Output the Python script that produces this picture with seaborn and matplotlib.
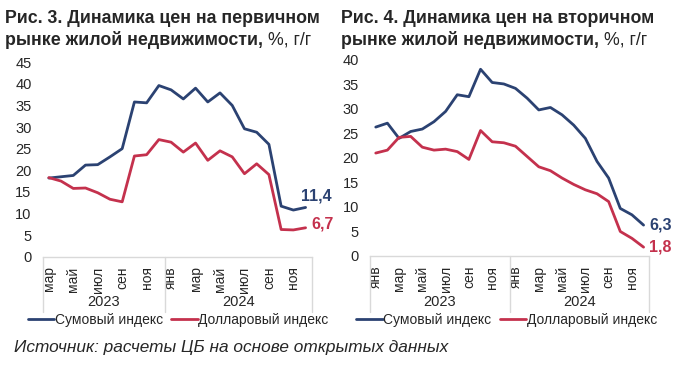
import numpy as np
import pandas as pd
import seaborn as sns
import matplotlib.pyplot as plt
from matplotlib.lines import Line2D
from matplotlib import transforms

# данные: первичный рынок (мар 2023 - дек 2024)
months = ['янв', 'фев', 'мар', 'апр', 'май', 'июн', 'июл', 'авг', 'сен', 'окт', 'ноя', 'дек']
primary_months = months[2:] + months
primary_som = [18.2, 18.5, 18.8, 21.2, 21.3, 23.1, 25.0, 35.8, 35.6, 39.6, 38.6,
               36.5, 39.0, 35.8, 37.9, 35.0, 29.6, 28.8, 26.0, 11.7, 10.8, 11.4]
primary_usd = [18.3, 17.5, 15.8, 15.9, 14.8, 13.3, 12.7, 23.3, 23.6, 27.1, 26.5,
               24.2, 26.3, 22.3, 24.5, 23.1, 19.2, 21.5, 19.0, 6.3, 6.2, 6.7]

# вторичный рынок (янв 2023 - дек 2024)
secondary_months = months + months
secondary_som = [26.3, 27.1, 24.0, 25.4, 25.9, 27.4, 29.5, 32.9, 32.5, 38.1, 35.4, 35.1,
                 34.2, 32.2, 29.8, 30.3, 28.8, 26.7, 24.0, 19.3, 15.9, 9.7, 8.4, 6.3]
secondary_usd = [21.0, 21.6, 24.2, 24.4, 22.2, 21.6, 21.8, 21.3, 19.7, 25.6, 23.3, 23.1,
                 22.4, 20.3, 18.2, 17.4, 15.9, 14.6, 13.5, 12.7, 11.1, 5.0, 3.6, 1.8]

years = ['2023', '2024']
series_names = ['Сумовый индекс', 'Долларовый индекс']
blue = '#2B4272'
red = '#C4314D'
grey = '#D9D9D9'

sns.set_theme(style='white')
plt.rcParams['font.family'] = ['Liberation Sans', 'DejaVu Sans']

fig = plt.figure(figsize=(6.8, 3.77), dpi=100)
ax1 = fig.add_axes([0.0628, 0.319, 0.3956, 0.516])
ax2 = fig.add_axes([0.544, 0.321, 0.411, 0.52])


def draw_panel(ax, month_labels, som, usd, n_first_year, ymax, end_offsets):
    n = len(month_labels)
    df = pd.DataFrame({
        'idx': list(range(n)) * 2,
        'value': som + usd,
        'series': [series_names[0]] * n + [series_names[1]] * n,
    })
    sns.lineplot(data=df, x='idx', y='value', hue='series',
                 palette=[blue, red], linewidth=2, legend=False, ax=ax)
    ax.set_xlim(-0.5, n - 0.5)
    ax.set_ylim(0, ymax)
    ax.set_yticks(range(0, ymax + 1, 5))
    ax.set_xticks(range(0, n, 2))
    ax.set_xticklabels(month_labels[::2], rotation=90, va='top')
    ax.tick_params(axis='x', length=0, pad=7, labelsize=10)
    ax.tick_params(axis='y', length=0, pad=8, labelsize=10.5)
    ax.set_xlabel('')
    ax.set_ylabel('')
    for s in ['top', 'right', 'left']:
        ax.spines[s].set_visible(False)
    ax.spines['bottom'].set_color(grey)
    ax.spines['bottom'].set_linewidth(1)

    # разделители годов и подписи годов
    tr = transforms.blended_transform_factory(ax.transData, ax.transAxes)
    for xv in [-0.5, n_first_year - 0.5, n - 0.5]:
        ax.plot([xv, xv], [0, -0.285], color=grey, lw=1, transform=tr, clip_on=False)
    ax.text((n_first_year - 1) / 2, -0.235, years[0], transform=tr,
            ha='center', va='center', fontsize=10.5)
    ax.text((n_first_year + n - 1) / 2, -0.235, years[1], transform=tr,
            ha='center', va='center', fontsize=10.5)

    # подписи последних значений
    for vals, col, off in zip([som, usd], [blue, red], end_offsets):
        ax.annotate(f'{vals[-1]:.1f}'.replace('.', ','), xy=(n - 1, vals[-1]),
                    xytext=off, textcoords='offset points', color=col,
                    fontsize=11.5, fontweight='bold', ha='left', va='center')


draw_panel(ax1, primary_months, primary_som, primary_usd, 10, 45, [(-3, 8), (4, 3)])
draw_panel(ax2, secondary_months, secondary_som, secondary_usd, 12, 40, [(4, 0), (4, 0)])

# легенды
handles = [Line2D([0], [0], color=blue, lw=2), Line2D([0], [0], color=red, lw=2)]
for xc in [0.262, 0.745]:
    fig.legend(handles, series_names, loc='center', bbox_to_anchor=(xc, 0.152),
               ncol=2, frameon=False, fontsize=10, handlelength=1.9,
               handletextpad=0.05, columnspacing=0.6)

# заголовки: жирная часть + обычная "%, г/г"
fig.canvas.draw()
renderer = fig.canvas.get_renderer()
for x0, num, kind in [(0.008, '3', 'первичном'), (0.502, '4', 'вторичном')]:
    fig.text(x0, 0.952, f'Рис. {num}. Динамика цен на {kind}', fontsize=12.8,
             fontweight='bold', ha='left', va='center')
    t2 = fig.text(x0, 0.893, 'рынке жилой недвижимости, ', fontsize=12.8,
                  fontweight='bold', ha='left', va='center')
    bb = t2.get_window_extent(renderer).transformed(fig.transFigure.inverted())
    fig.text(bb.x1, 0.893, '%, г/г', fontsize=12.8, ha='left', va='center')

fig.text(0.02, 0.077, 'Источник: расчеты ЦБ на основе открытых данных',
         fontsize=12.4, style='italic', ha='left', va='center')

fig.savefig('out.png', dpi=100)
